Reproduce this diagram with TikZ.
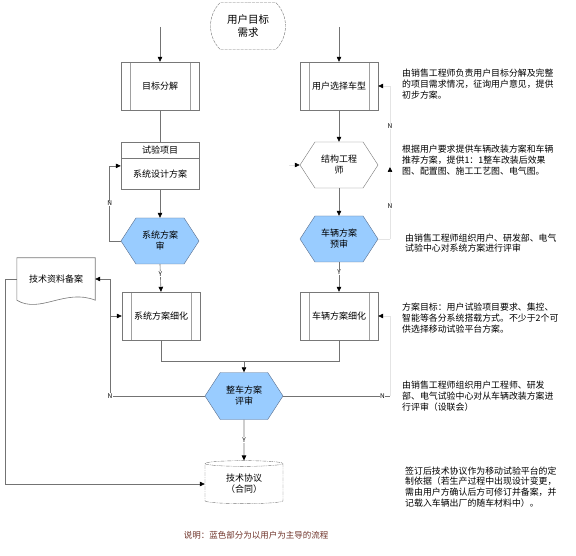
\documentclass[tikz,border=0pt]{standalone}
\usepackage{fontspec}
\setmainfont{Noto Sans CJK SC}
\usetikzlibrary{arrows.meta, positioning, shapes.geometric, shapes.symbols, shapes.misc}

\definecolor{linegray}{RGB}{115,115,115}
\definecolor{boxgray}{RGB}{120,120,120}
\definecolor{hexblue}{RGB}{153,204,255}
\definecolor{hexedge}{RGB}{90,110,140}
\definecolor{faintgray}{RGB}{228,228,228}
\definecolor{notebrown}{RGB}{110,50,40}

\begin{document}
\begin{tikzpicture}[
    x=1pt, y=-1pt,
    every node/.style={inner sep=1pt, font=\fontsize{9}{11}\selectfont},
    procbox/.style={draw=boxgray, rectangle, minimum width=78pt, minimum height=48pt,
      path picture={
        \draw[boxgray!70] ([xshift=9pt]path picture bounding box.north west) -- ([xshift=9pt]path picture bounding box.south west);
        \draw[boxgray!70] ([xshift=-9pt]path picture bounding box.north east) -- ([xshift=-9pt]path picture bounding box.south east);}},
    plainbox/.style={draw=boxgray, rectangle, minimum width=78pt},
    hexw/.style={signal, signal to=west and east, signal pointer angle=114,
      draw=boxgray, minimum width=78pt, minimum height=46pt, align=center},
    hexb/.style={hexw, fill=hexblue, draw=hexedge},
    link/.style={draw=linegray, line width=0.6pt},
    arrow/.style={link, -{Triangle[length=5pt,width=4.5pt,color=black]}},
    faint/.style={draw=faintgray, line width=0.6pt},
    tipb/.style={-{Triangle[length=5pt,width=4.5pt,color=black]}},
    lbl/.style={font=\fontsize{6.5}{7}\selectfont, fill=white, inner sep=0.5pt},
    note/.style={anchor=west, align=left, font=\fontsize{8.9}{10.7}\selectfont}
]
\useasboundingbox (0,0) rectangle (576,556);

% start
\node[rounded rectangle, rounded rectangle arc length=90, draw=boxgray, dash pattern=on 3pt off 1pt,
  minimum width=77pt, minimum height=47pt, align=center, font=\fontsize{10.5}{13}\selectfont]
  (ut) at (248,26) {用户目标\\需求};

% left column
\node[procbox] (mb) at (160,86) {目标分解};
\node[plainbox, minimum height=16pt] (sjtop) at (160,150) {试验项目};
\node[plainbox, minimum height=31pt, below=0pt of sjtop] (sjbox) {系统设计方案};
\node[hexb] (xsh) at (160,241) {系统方案\\审};
\node[procbox] (xf) at (161,316) {系统方案细化};

% right column
\node[procbox] (yh) at (339,86) {用户选择车型};
\node[hexw] (jg) at (339,165) {结构工程\\师};
\node[hexb] (cl) at (339,239) {车辆方案\\预审};
\node[procbox] (cx) at (339,316) {车辆方案细化};

% merge and end
\node[hexb, minimum height=47pt] (zc) at (244,396) {整车方案\\评审};
\node[cylinder, shape border rotate=90, aspect=0.15, draw=boxgray,
  dash pattern=on 4pt off 1pt on 1pt off 1pt, minimum width=78pt, minimum height=43pt, align=center]
  (xy) at (244,484) {技术协议\\（合同）};
\node[minimum width=78pt, minimum height=42pt] (doc) at (56,279) {技术资料备案};
\draw[boxgray, line width=0.6pt] (doc.south west) -- (doc.north west) -- (doc.north east) -- (doc.south east)
  .. controls +(-30,-12) and +(23,14) .. (doc.south west);

% free ends
\coordinate (t1) at (160,27);
\coordinate (t2) at (339,27);
\coordinate (jgin) at (289,165);
\coordinate (ra) at (390,239);
\coordinate (rb) at (390,167);
\coordinate (jl) at (110,0);
\coordinate (mg) at (244,361);

% connectors
\draw[arrow] (t1) -- (mb.north);
\draw[arrow] (t2) -- (yh.north);
\draw[link] (mb.south) -- (sjtop.north);
\draw[arrow] (sjbox.south) -- (xsh.north);
\draw[arrow] (xsh.south) -- node[lbl, pos=0.35]{Y} (xf.north);
\draw[arrow] (xsh.west) -- ++(-11,0) |- node[lbl, pos=0.25]{N} ([yshift=8pt]sjbox.west);
\draw[arrow] (yh.south) -- (jg.north);
\draw[arrow] (jg.south) -- (cl.north);
\draw[arrow] (cl.south) -- node[lbl, pos=0.35]{Y} (cx.north);
\draw[faint, tipb] (jgin) -- (jg.west);
\draw[faint] (cl.east) -- (ra);
\draw[faint, tipb] (ra) -- node[lbl, pos=0.45]{N} (rb);
\draw[faint, tipb] (rb) -- node[lbl, pos=0.5]{N} (yh.east -| ra) -- (yh.east);
\draw[link] (xf.south) |- (mg);
\draw[link] (cx.south) |- (mg);
\draw[arrow] (mg) -- (zc.north);
\draw[arrow] (zc.south) -- node[lbl]{Y} (xy.north);
\draw[link] (zc.east) -- node[lbl, pos=0.93]{N} (zc.east -| ra);
\draw[faint, tipb] (zc.east -| ra) |- (cx.east);
\draw[arrow] (zc.west) -- (zc.west -| jl) node[lbl]{N} |- (doc.east);
\draw[arrow] (xf.west -| jl) -- (xf.west);
\draw[arrow] (doc.west) -- ++(-12,0) |- (xy.west);

% notes
\node[note] (n1) at (401,84) {由销售工程师负责用户目标分解及完整\\的项目需求情况，征询用户意见，提供\\初步方案。};
\node[note] (n2) at (401,160) {根据用户要求提供车辆改装方案和车辆\\推荐方案，提供1：1整车改装后效果\\图、配置图、施工工艺图、电气图。};
\node[note] (n3) at (404,243) {由销售工程师组织用户、研发部、电气\\试验中心对系统方案进行评审};
\node[note] (n4) at (401,318) {方案目标：用户试验项目要求、集控、\\智能等各分系统搭载方式。不少于2个可\\供选择移动试验平台方案。};
\node[note] (n5) at (401,396) {由销售工程师组织用户工程师、研发\\部、电气试验中心对从车辆改装方案进\\行评审（设联会）};
\node[note] (n6) at (404,487) {签订后技术协议作为移动试验平台的定\\制依据（若生产过程中出现设计变更，\\需由用户方确认后方可修订并备案，并\\记载入车辆出厂的随车材料中）。};
\node[text=notebrown, font=\fontsize{8.5}{10}\selectfont] (cap) at (256,535) {说明：蓝色部分为以用户为主导的流程};
\end{tikzpicture}
\end{document}
